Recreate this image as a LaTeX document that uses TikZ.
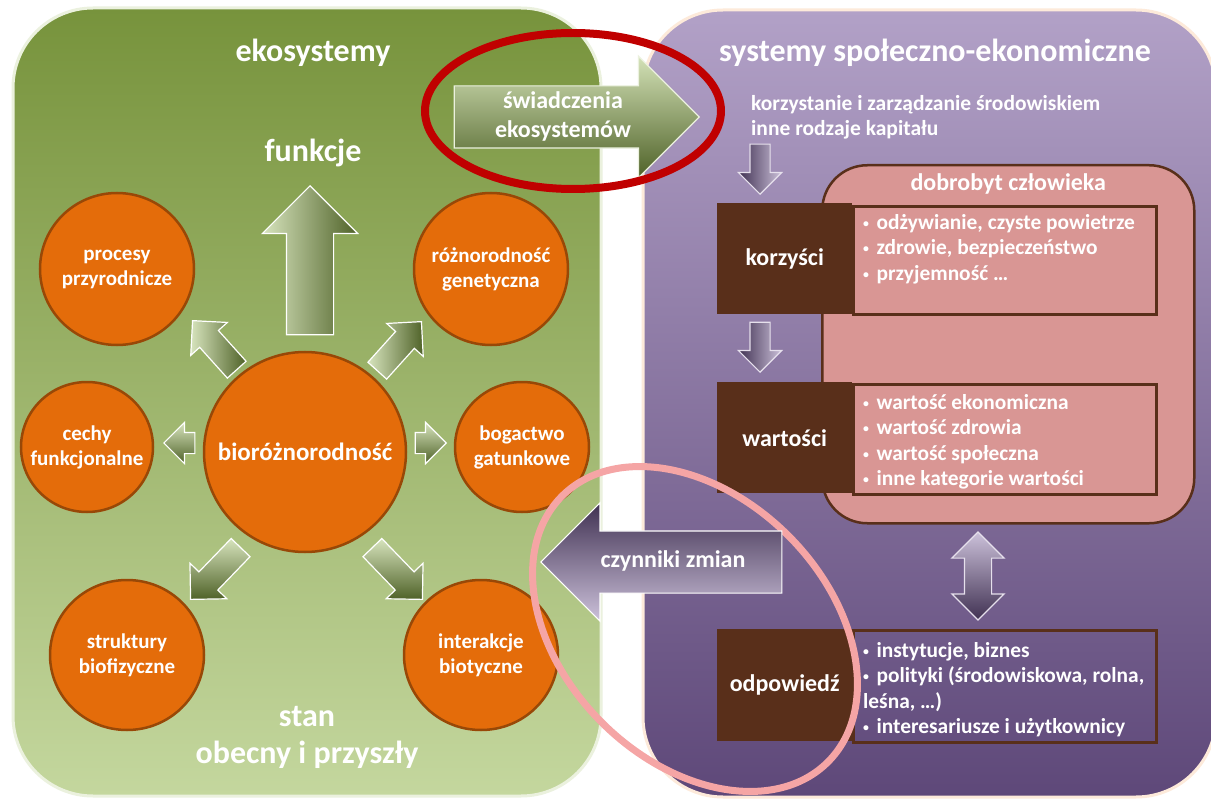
\documentclass[tikz,border=0pt]{standalone}
\usepackage{fontspec}
\usepackage{graphicx}
\setmainfont{Carlito}
\usetikzlibrary{shapes,arrows,calc,positioning}

\definecolor{ekoTop}{RGB}{119,147,60}
\definecolor{ekoBottom}{RGB}{196,215,158}
\definecolor{ekoEdge}{RGB}{235,241,222}
\definecolor{socTop}{RGB}{178,161,199}
\definecolor{socBottom}{RGB}{94,72,121}
\definecolor{socEdge}{RGB}{253,234,218}
\definecolor{pomarancz}{RGB}{228,108,10}
\definecolor{pomaranczEdge}{RGB}{152,72,7}
\definecolor{braz}{RGB}{89,47,26}
\definecolor{roz}{RGB}{217,150,148}
\definecolor{zielJasny}{RGB}{215,228,189}
\definecolor{zielCiemny}{RGB}{79,98,40}
\definecolor{filJasny}{RGB}{204,193,218}
\definecolor{filCiemny}{RGB}{64,49,82}
\definecolor{czerwony}{RGB}{192,0,0}
\definecolor{rozowy}{RGB}{245,165,165}

% small list bullet
\newcommand{\kropka}{\raisebox{0.1em}{\scalebox{0.55}{•}}\hspace{0.35em}}

\begin{document}
\begin{tikzpicture}[x=1pt, y=-1pt]
\tikzset{
    % background panels
    panel/.style={rounded corners=80pt, line width=3pt},
    % headings
    tytul/.style={text=white, font=\bfseries\fontsize{32}{37}\selectfont, align=center},
    % orange circles, the text goes in as a centred label
    kolo/.style={ellipse, fill=pomarancz, draw=pomaranczEdge, line width=2.5pt, inner sep=0pt},
    napis/.style={text=white, font=\bfseries\fontsize{21}{25}\selectfont, align=center},
    % block arrows: length, half shaft, head extend
    strzalka/.style n args={3}{single arrow, minimum height=#1, minimum width=0pt,
           inner xsep=0pt, inner ysep=#2, single arrow head extend=#3,
           draw=white, line width=1.2pt},
    fioletowa/.style={draw=filJasny!50!white},
    % boxes on the right
    ramka/.style={fill=braz, text=white, font=\bfseries\fontsize{24}{28}\selectfont,
           anchor=north west, minimum width=135, minimum height=111},
    lramka/.style={draw=braz, line width=3pt, anchor=north west,
           minimum width=303, minimum height=108},
    lista/.style={text=white, font=\bfseries\fontsize{21.4}{25.5}\selectfont,
           align=left, anchor=north west, inner sep=0pt}
}
\fill[white] (0,0) rectangle (1211,805);
\useasboundingbox (0,0) rectangle (1211,805);

% the two panels
\path[panel, draw=ekoEdge, top color=ekoTop, bottom color=ekoBottom] (13,8) rectangle (601,796);
\path[panel, draw=socEdge, top color=socTop, bottom color=socBottom] (643,10) rectangle (1216,797);

%%% left panel
\node[tytul] (eko) at (313,53) {ekosystemy};
\node[tytul] (funkcje) at (313,153) {funkcje};
\node[tytul] (stan) at (307,737) {stan\\obecny i przyszły};

\node[kolo, minimum width=202, minimum height=200,
  label={[napis, font=\bfseries\fontsize{25}{30}\selectfont]center:bioróżnorodność}] (bio) at (305,452) {};
\node[kolo, minimum width=154, minimum height=152,
  label={[napis]center:procesy\\przyrodnicze}] (procesy) at (117,269) {};
\node[kolo, minimum width=154, minimum height=152,
  label={[napis]center:różnorodność\\genetyczna}] (genet) at (491,269) {};
\node[kolo, minimum width=132, minimum height=130,
  label={[napis]center:cechy\\funkcjonalne}] (cechy) at (87,447) {};
\node[kolo, minimum width=134, minimum height=130,
  label={[napis]center:bogactwo\\gatunkowe}] (bogactwo) at (522,447) {};
\node[kolo, minimum width=154, minimum height=150,
  label={[napis]center:struktury\\biofizyczne}] (struktury) at (127,655) {};
\node[kolo, minimum width=154, minimum height=150,
  label={[napis]center:interakcje\\biotyczne}] (interakcje) at (481,655) {};

% arrows going out of biodiversity
\node[strzalka={149}{23}{24}, left color=zielJasny, right color=zielCiemny,
  anchor=tip, rotate=90] (doFunkcji) at (310,185) {};
\node[strzalka={66}{12}{12}, left color=zielJasny, right color=zielCiemny,
  anchor=tip, rotate=132] (doProcesow) at (192,320) {};
\node[strzalka={66}{12}{12}, left color=zielJasny, right color=zielCiemny,
  anchor=tip, rotate=48] (doGenet) at (422,321) {};
\node[strzalka={31}{10}{10}, top color=zielJasny, bottom color=zielCiemny,
  anchor=tip, rotate=180] (doCech) at (163,443) {};
\node[strzalka={31}{10}{10}, top color=zielJasny, bottom color=zielCiemny,
  anchor=tip] (doBogactwa) at (447,443) {};
\node[strzalka={72}{12.5}{12.5}, top color=zielJasny, bottom color=zielCiemny,
  anchor=tip, rotate=226] (doStruktur) at (190,600) {};
\node[strzalka={72}{12.5}{12.5}, top color=zielJasny, bottom color=zielCiemny,
  anchor=tip, rotate=-46] (doInterakcji) at (423,600) {};

% ecosystem services
\node[strzalka={245}{30.5}{29.5}, top color=zielJasny!80!ekoBottom, bottom color=zielCiemny,
  draw=ekoEdge, anchor=tip] (swiadczenia) at (700,117) {};
\node[napis, font=\bfseries\fontsize{24}{29}\selectfont] (swiadczeniaT) at (563,116) {świadczenia\\ekosystemów};
\draw[czerwony, line width=8pt] (573,111) ellipse [x radius=148, y radius=78];

%%% right panel
\node[tytul] (socio) at (935,53) {systemy społeczno-ekonomiczne};
\node[lista, font=\bfseries\fontsize{21.5}{25}\selectfont] (korzystanie) at (751,95)
  {korzystanie i zarządzanie środowiskiem\\inne rodzaje kapitału};
\node[strzalka={50}{9.5}{11.5}, fioletowa, left color=filCiemny, right color=filJasny,
  anchor=tip, rotate=-90] (wdol1) at (760,195) {};

\node[fill=roz, draw=braz, line width=2.5pt, rounded corners=45pt, anchor=north west,
  minimum width=372, minimum height=358] (dobrobyt) at (821,164) {};
\node[napis, font=\bfseries\fontsize{24}{28}\selectfont, anchor=north] (dobrobytT)
  at ($(dobrobyt.north)+(0,6)$) {dobrobyt człowieka};

\node[ramka] (korzysci) at (717,203) {korzyści};
\node[lramka, fill=roz] (korzysciL) at (852,205) {};
\node[lista] (korzysciT) at ($(korzysciL.north west)+(11,9)$)
  {\kropka odżywianie, czyste powietrze\\\kropka zdrowie, bezpieczeństwo\\\kropka przyjemność …};

\node[strzalka={50}{9.5}{11.5}, fioletowa, left color=filCiemny, right color=filJasny,
  anchor=tip, rotate=-90] (wdol2) at (760,373) {};

\node[ramka] (wartosci) at (717,382) {wartości};
\node[lramka, fill=roz, minimum height=110] (wartosciL) at (852,383) {};
\node[lista] (wartosciT) at ($(wartosciL.north west)+(11,11)$)
  {\kropka wartość ekonomiczna\\\kropka wartość zdrowia\\\kropka wartość społeczna\\\kropka inne kategorie wartości};

\node[double arrow, minimum height=88, minimum width=0pt, inner xsep=0pt, inner ysep=13,
  double arrow head extend=12.5, draw=filJasny!50!white, line width=1.2pt,
  top color=filJasny, bottom color=filCiemny, rotate=90] (wzajemnie) at (978,576) {};

\node[ramka, minimum height=112] (odpowiedz) at (717,629) {odpowiedź};
\node[lramka, minimum height=112] (odpowiedzL) at (852,629) {};
\node[lista] (odpowiedzT) at ($(odpowiedzL.north west)+(11,13)$)
  {\kropka instytucje, biznes\\\kropka polityki (środowiskowa, rolna,\\leśna, …)\\\kropka interesariusze i użytkownicy};

% drivers of change
\draw[rozowy, line width=7pt, rotate around={45:(695,629)}] (695,629) ellipse [x radius=132, y radius=188];
\node[strzalka={241}{30.5}{28}, top color=filCiemny, bottom color=filJasny, draw=white,
  anchor=tip, rotate=180] (czynniki) at (540,562) {};
\node[napis, font=\bfseries\fontsize{24}{28}\selectfont] (czynnikiT) at (673,561) {czynniki zmian};
\end{tikzpicture}
\end{document}
